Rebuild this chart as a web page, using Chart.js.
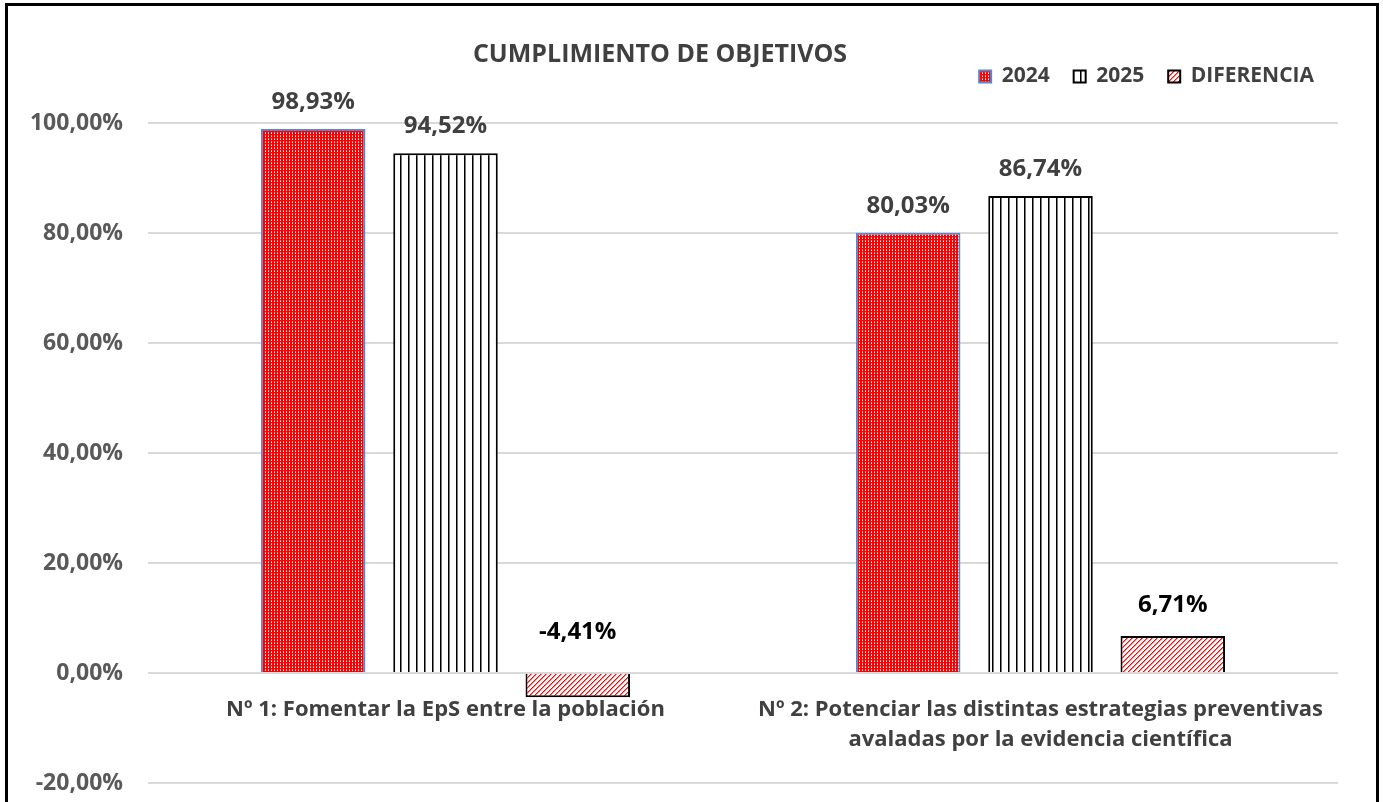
<!DOCTYPE html>
<html>
<head>
<meta charset="utf-8">
<script src="https://cdn.jsdelivr.net/npm/chart.js@4.4.1/dist/chart.umd.min.js"></script>
<style>
  html, body { margin: 0; padding: 0; background: #fff; overflow: hidden; }
  #grafico { position: absolute; left: 0; top: 0; }
  #marco { position: absolute; left: 5px; top: 3px; width: 1374px; height: 900px;
           box-sizing: border-box; border: 3px solid #000; pointer-events: none; }
</style>
</head>
<body>
<canvas id="grafico" width="1383" height="802"></canvas>
<div id="marco"></div>
<script>
const categorias = [
    'Nº 1: Fomentar la EpS entre la población',
    ['Nº 2: Potenciar las distintas estrategias preventivas', 'avaladas por la evidencia científica']
];
const series = ['2024', '2025', 'DIFERENCIA'];
const valores2024 = [98.93, 80.03];
const valores2025 = [94.52, 86.74];
const valoresDiferencia = [-4.41, 6.71];
const ticksY = [-20, 0, 20, 40, 60, 80, 100];

const fuente = '"Open Sans", Lato, sans-serif';
const titulo = 'CUMPLIMIENTO DE OBJETIVOS';

function formatoPct(v) {
    return v.toFixed(2).replace('.', ',') + '%';
}

// patrones de relleno tipo Excel
function crearPatron(ancho, alto, dibujar) {
    const c = document.createElement('canvas');
    c.width = ancho;
    c.height = alto;
    const g = c.getContext('2d');
    dibujar(g);
    return g.createPattern(c, 'repeat');
}

const patron2024 = crearPatron(3, 3, g => {
    g.fillStyle = '#ff0000';
    g.fillRect(0, 0, 3, 3);
    g.fillStyle = '#ffffff';
    g.fillRect(1, 1, 1, 1);
    g.fillStyle = '#ffa0a0';
    g.fillRect(1, 0, 1, 1);
});

const patron2025 = crearPatron(8, 1, g => {
    g.fillStyle = '#ffffff';
    g.fillRect(0, 0, 8, 1);
    g.fillStyle = '#000000';
    g.fillRect(0, 0, 1, 1);
    g.fillStyle = '#777777';
    g.fillRect(1, 0, 1, 1);
});

const patronDif = crearPatron(5, 5, g => {
    g.fillStyle = '#ffffff';
    g.fillRect(0, 0, 5, 5);
    for (let i = 0; i < 5; i++) {
        g.fillStyle = '#ff0000';
        g.fillRect(i, 4 - i, 1, 1);
        g.fillStyle = '#ff8080';
        g.fillRect(i, (5 - i) % 5, 1, 1);
    }
});

// etiquetas de valor encima de las barras
const etiquetasValor = {
    id: 'etiquetasValor',
    afterDatasetsDraw(chart) {
        const ctx = chart.ctx;
        const cero = chart.scales.y.getPixelForValue(0);
        ctx.save();
        ctx.textAlign = 'center';
        ctx.textBaseline = 'middle';
        ctx.font = 'bold 24px ' + fuente;
        chart.data.datasets.forEach((ds, i) => {
            const meta = chart.getDatasetMeta(i);
            ctx.fillStyle = i === 2 ? '#000000' : '#404040';
            meta.data.forEach((barra, j) => {
                const v = ds.data[j];
                let y;
                if (v < 0) y = cero - 41;
                else y = barra.y - (i === 2 ? 31 : 27);
                ctx.fillText(formatoPct(v), barra.x, y);
            });
        });
        ctx.restore();
    }
};

const tituloGrafico = {
    id: 'tituloGrafico',
    afterDraw(chart) {
        const ctx = chart.ctx;
        ctx.save();
        ctx.font = 'bold 25px ' + fuente;
        ctx.fillStyle = '#404040';
        ctx.textAlign = 'center';
        ctx.textBaseline = 'middle';
        ctx.fillText(titulo, 660, 55);
        ctx.restore();
    }
};

const ctx = document.getElementById('grafico').getContext('2d');
const miGrafico = new Chart(ctx, {
    type: 'bar',
    data: {
        labels: categorias,
        datasets: [
            {
                label: series[0],
                data: valores2024,
                backgroundColor: patron2024,
                borderColor: '#5b86cc',
                borderWidth: 2
            },
            {
                label: series[1],
                data: valores2025,
                backgroundColor: patron2025,
                borderColor: '#000000',
                borderWidth: 2
            },
            {
                label: series[2],
                data: valoresDiferencia,
                backgroundColor: patronDif,
                borderColor: '#000000',
                borderWidth: 2
            }
        ]
    },
    options: {
        responsive: false,
        animation: false,
        categoryPercentage: 0.667,
        barPercentage: 0.79,
        layout: {
            padding: { top: 42, right: 45, bottom: 19, left: 0 }
        },
        scales: {
            x: {
                position: { y: 0 },
                grid: { display: false, drawTicks: false },
                border: { display: false },
                ticks: {
                    color: '#404040',
                    font: { family: fuente, size: 22, weight: 'bold', lineHeight: 1.36 },
                    padding: 22,
                    maxRotation: 0,
                    autoSkip: false
                }
            },
            y: {
                min: ticksY[0],
                max: ticksY[ticksY.length - 1],
                afterBuildTicks: (escala) => {
                    escala.ticks = ticksY.map(v => ({ value: v }));
                },
                afterFit: (escala) => {
                    escala.width = 148;
                },
                grid: {
                    color: '#d9d9d9',
                    lineWidth: 2,
                    drawTicks: true,
                    tickLength: 25,
                    tickColor: 'rgba(0,0,0,0)'
                },
                border: { display: false },
                ticks: {
                    color: '#595959',
                    font: { family: fuente, size: 23, weight: 'bold' },
                    padding: 0,
                    callback: (v) => formatoPct(v)
                }
            }
        },
        plugins: {
            legend: {
                position: 'top',
                align: 'end',
                labels: {
                    color: '#404040',
                    font: { family: fuente, size: 21, weight: 'bold' },
                    boxWidth: 12,
                    boxHeight: 12,
                    padding: 24
                }
            },
            // hueco entre la leyenda y el área del gráfico
            subtitle: {
                display: true,
                text: '',
                weight: 500,
                font: { size: 10 },
                padding: { top: 14, bottom: 0 }
            },
            tooltip: { enabled: false }
        }
    },
    plugins: [etiquetasValor, tituloGrafico]
});
</script>
</body>
</html>
